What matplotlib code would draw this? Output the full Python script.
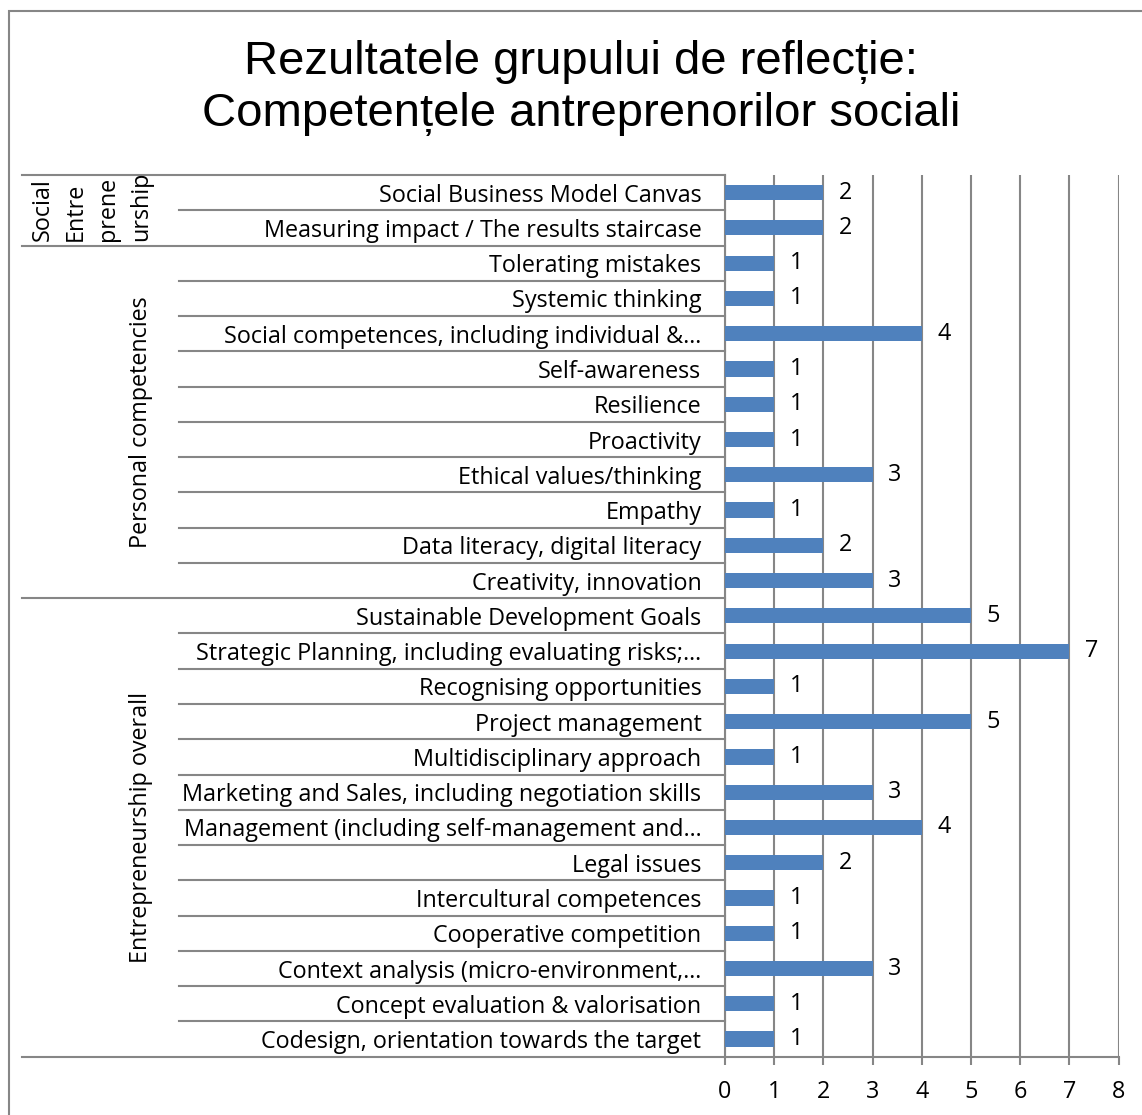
import numpy as np
import matplotlib.pyplot as plt
from matplotlib.patches import Rectangle

# Categories, top to bottom, as in the chart
categories = [
    "Social Business Model Canvas",
    "Measuring impact / The results staircase",
    "Tolerating mistakes",
    "Systemic thinking",
    "Social competences, including individual &…",
    "Self-awareness",
    "Resilience",
    "Proactivity",
    "Ethical values/thinking",
    "Empathy",
    "Data literacy, digital literacy",
    "Creativity, innovation",
    "Sustainable Development Goals",
    "Strategic Planning, including evaluating risks;…",
    "Recognising opportunities",
    "Project management",
    "Multidisciplinary approach",
    "Marketing and Sales, including negotiation skills",
    "Management (including self-management and…",
    "Legal issues",
    "Intercultural competences",
    "Cooperative competition",
    "Context analysis (micro-environment,…",
    "Concept evaluation & valorisation",
    "Codesign, orientation towards the target",
]
values = [2, 2, 1, 1, 4, 1, 1, 1, 3, 1, 2, 3, 5, 7, 1, 5, 1, 3, 4, 2, 1, 1, 3, 1, 1]

# Outer groups: (label, first row, last row)
groups = [
    ("Social\nEntre\nprene\nurship", 0, 1),
    ("Personal competencies", 2, 11),
    ("Entrepreneurship overall", 12, 24),
]

title = "Rezultatele grupului de reflecție:\nCompetențele antreprenorilor sociali"

W, H = 1142, 1115
fig = plt.figure(figsize=(W / 100, H / 100), dpi=100)

# outer chart frame (cropped on right and bottom in the original)
fig.add_artist(Rectangle((9 / W, -0.1), 1.2, 1 - 11 / H + 0.1, transform=fig.transFigure,
                         fill=False, edgecolor="#868686", linewidth=1.5))

x0, x8, ytop, ybot = 725, 1118.7, 175, 1056.7
ax = fig.add_axes([x0 / W, 1 - ybot / H, (x8 - x0) / W, (ybot - ytop) / H])

label_font = "Open Sans"
fs = 16.8
grid_col = "#868686"
bar_col = "#4F81BD"

y = np.arange(len(categories))
bars = ax.barh(y, values, height=0.43, color=bar_col, zorder=3)
ax.bar_label(bars, padding=11, fontsize=fs, family=label_font)

ax.set_xlim(0, 8)
ax.set_ylim(len(categories) - 0.5, -0.5)
ax.set_xticks(range(9))
ax.grid(axis="x", color=grid_col, linewidth=1.5, zorder=0)
ax.set_yticks(y)
ax.set_yticklabels(categories, fontsize=fs, family=label_font)
ax.tick_params(axis="y", length=0, pad=17)
ax.tick_params(axis="x", length=6, color=grid_col, width=1.5, pad=11, labelsize=fs)
for lab in ax.get_xticklabels():
    lab.set_family(label_font)
for s in ["top", "right"]:
    ax.spines[s].set_visible(False)
for s in ["left", "bottom"]:
    ax.spines[s].set_color(grid_col)
    ax.spines[s].set_linewidth(1.5)

# row separators and group separators on the category axis
tr = ax.get_yaxis_transform()
def ax_x(px):
    return (px - x0) / (x8 - x0)

group_bounds = {g[1] - 0.5 for g in groups} | {groups[-1][2] + 0.5}
for b in np.arange(-0.5, len(categories), 1.0):
    left = 22 if b in group_bounds else 179
    ax.plot([ax_x(left), 0], [b, b], transform=tr, color=grid_col, linewidth=1.5,
            clip_on=False, zorder=1)

# group labels
ax.text(ax_x(92), 1.38, groups[0][0], transform=tr, rotation=90, ha="center", va="bottom",
        multialignment="left", linespacing=1.5, fontsize=fs, family=label_font)
for lab, a, b in groups[1:]:
    ax.text(ax_x(141), (a + b) / 2, lab, transform=tr, rotation=90, ha="center", va="center",
            fontsize=fs, family=label_font)

fig.text(581 / W, 1 - 88 / H, title, ha="center", va="center", fontsize=34,
         family="Liberation Sans", linespacing=1.26)

fig.savefig("out.png", dpi=100)
